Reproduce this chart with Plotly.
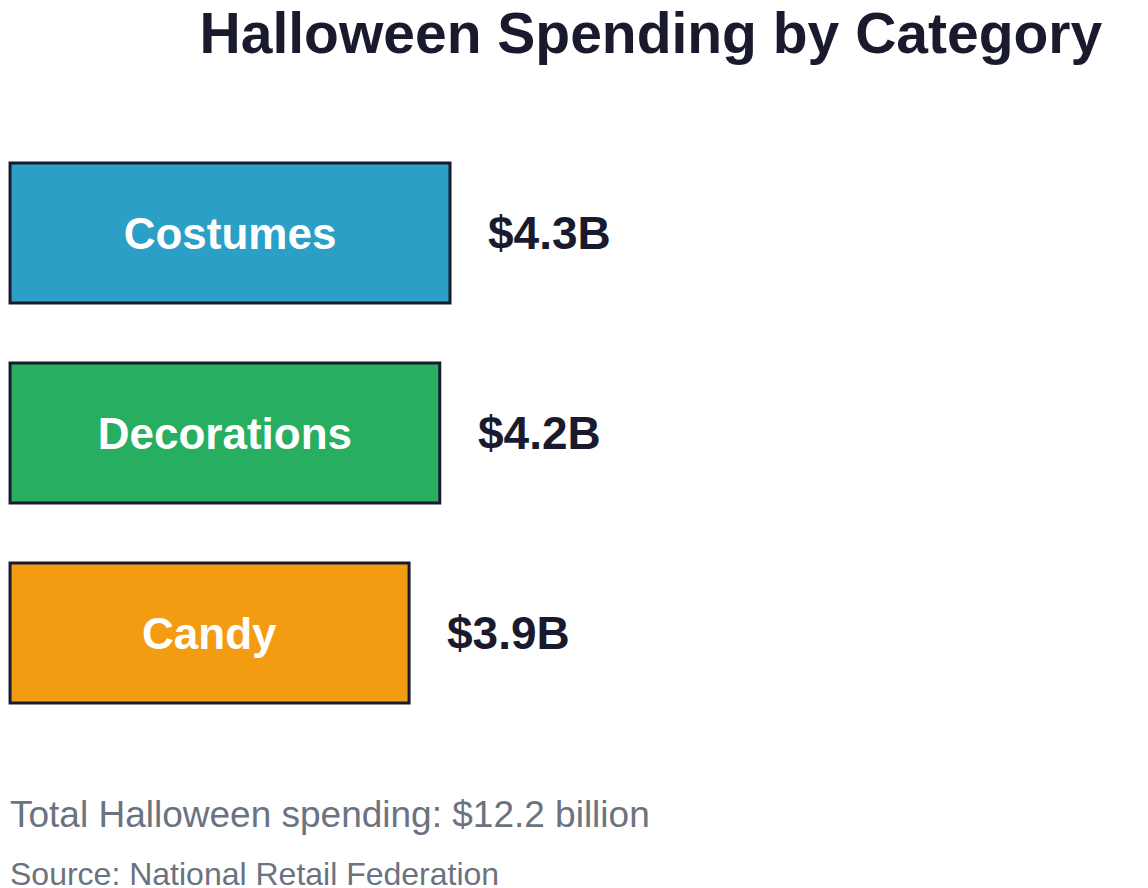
import plotly.graph_objects as go

categories = ["Costumes", "Decorations", "Candy"]
values = [4.3, 4.2, 3.9]
value_labels = ["$4.3B", "$4.2B", "$3.9B"]
colors = ["#2b9fc6", "#27ae60", "#f39c12"]

fig = go.Figure(go.Bar(
    y=categories,
    x=values,
    orientation="h",
    width=0.7,
    marker=dict(color=colors, line=dict(color="#1a1a2e", width=3)),
    text=["<b>%s</b>" % c for c in categories],
    textposition="inside",
    insidetextanchor="middle",
    textfont=dict(color="white", size=44, family="Liberation Sans"),
    hoverinfo="skip",
))

for cat, v, lab in zip(categories, values, value_labels):
    fig.add_annotation(x=v, y=cat, text="<b>%s</b>" % lab, showarrow=False,
                       xanchor="left", xshift=36,
                       font=dict(size=46, color="#1a1a2e", family="Liberation Sans"))

fig.add_annotation(x=0, y=-0.135, xref="paper", yref="paper", xanchor="left", yanchor="middle",
                   text="Total Halloween spending: $12.2 billion", showarrow=False,
                   font=dict(size=37, color="#6b7280", family="Liberation Sans"))
fig.add_annotation(x=0, y=-0.235, xref="paper", yref="paper", xanchor="left", yanchor="middle",
                   text="Source: National Retail Federation", showarrow=False,
                   font=dict(size=32, color="#6b7280", family="Liberation Sans"))

fig.update_layout(
    width=1148, height=888,
    margin=dict(l=0, r=0, t=125, b=163),
    paper_bgcolor="white", plot_bgcolor="white",
    title=dict(text="<b>Halloween Spending by Category</b>", x=0.56, xanchor="center",
               y=0.972, yanchor="middle",
               font=dict(size=57, color="#1a1a2e", family="Liberation Sans")),
    xaxis=dict(range=[-0.02, 11.2], visible=False),
    yaxis=dict(autorange="reversed", visible=False),
    showlegend=False,
    uniformtext=dict(minsize=44, mode="show"),
)

fig.write_html("out.html")
